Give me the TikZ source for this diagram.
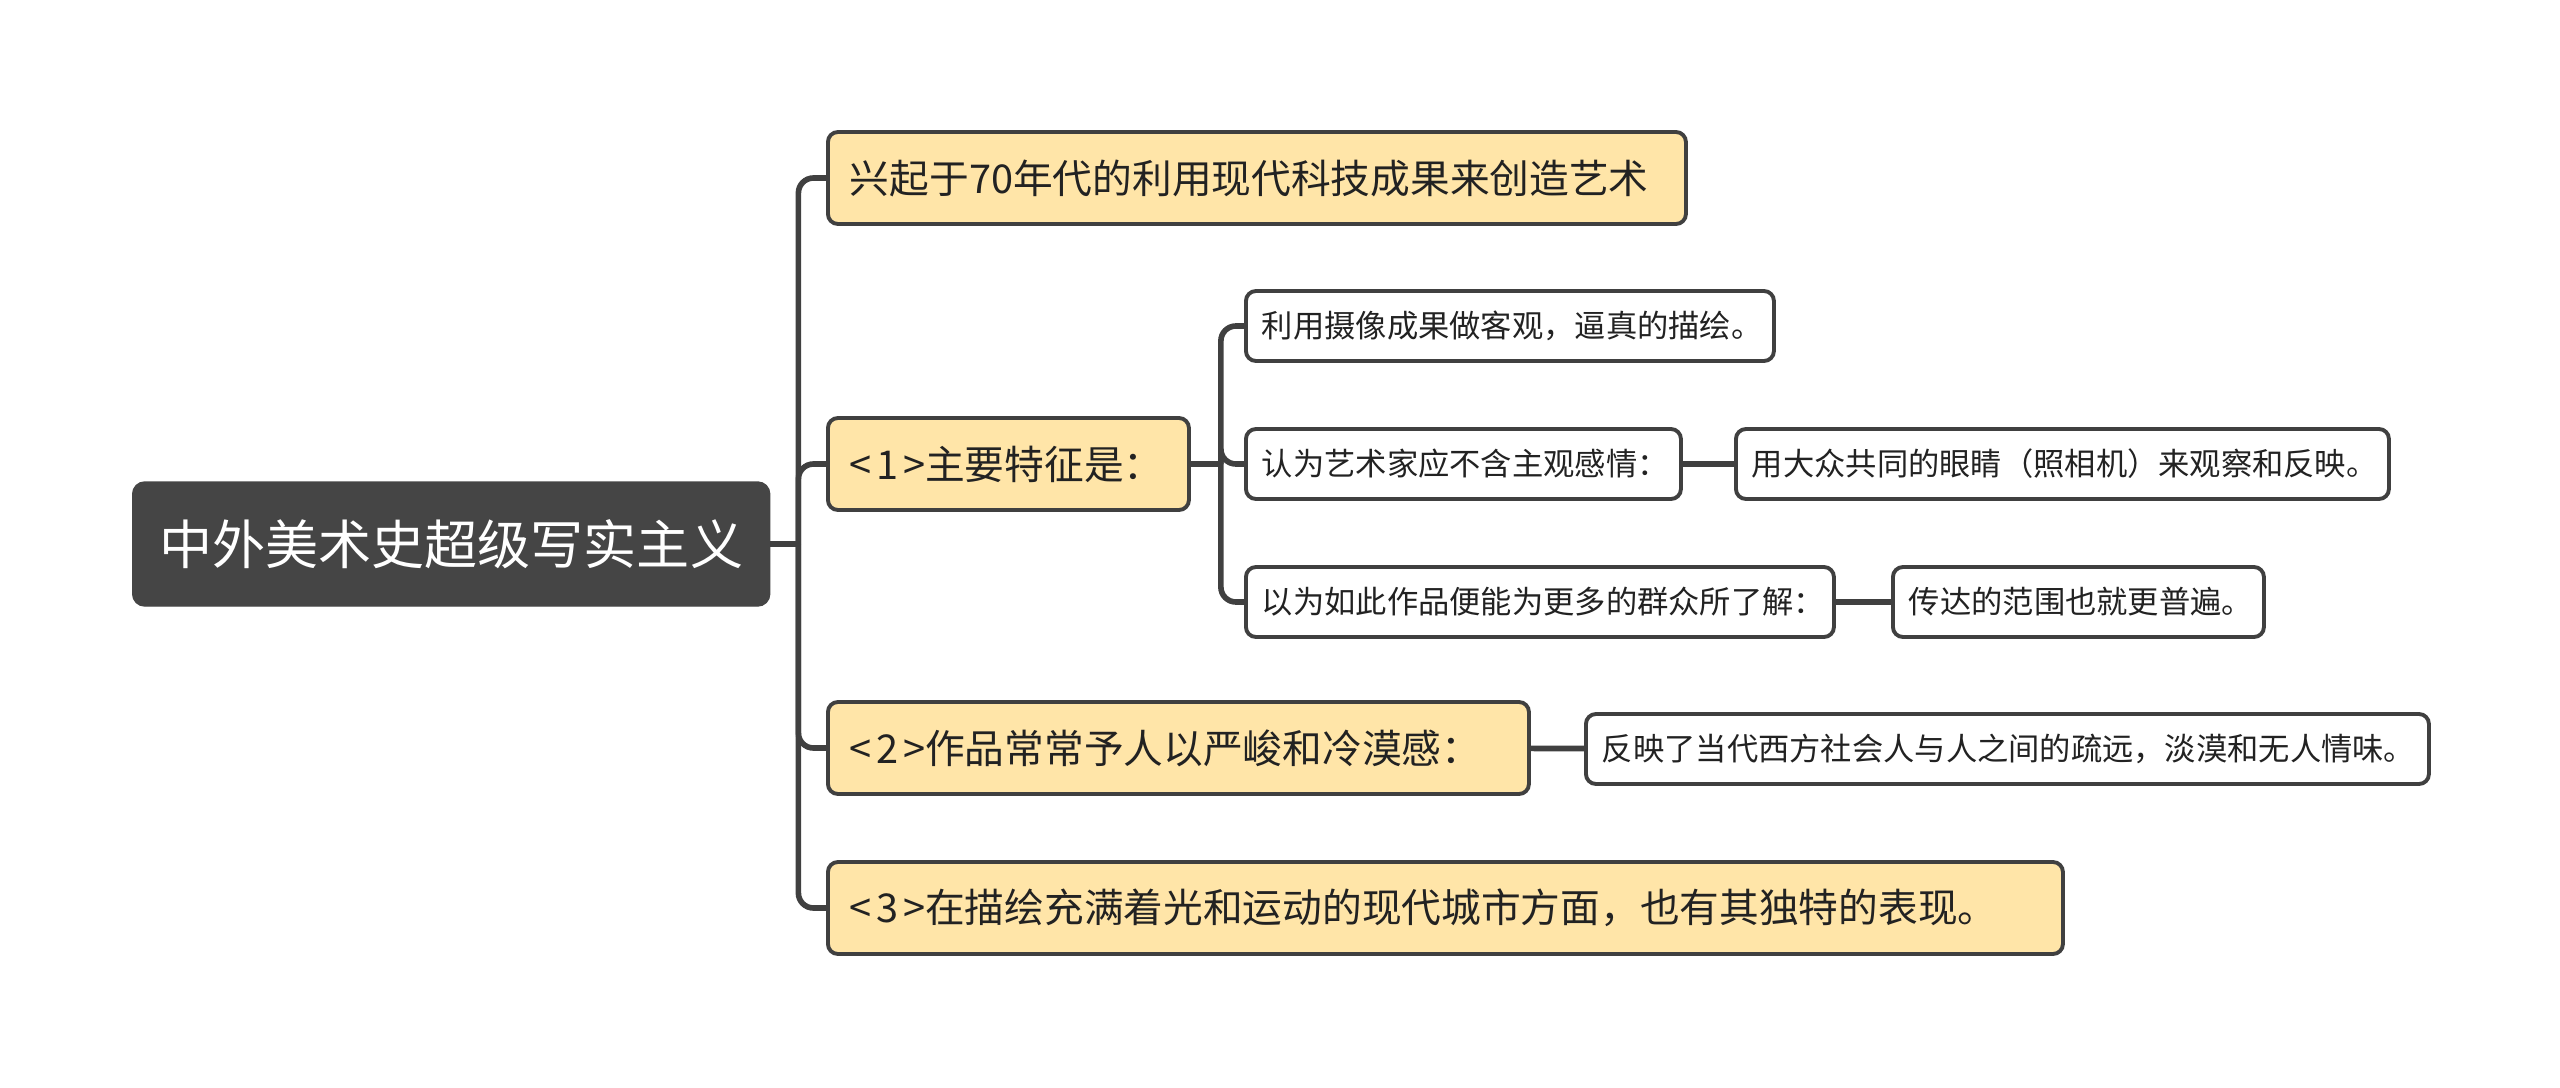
\documentclass[tikz,border=0pt]{standalone}
\usepackage{fontspec}
\setmainfont{Noto Sans CJK SC}
\usepackage{tikz}
\usetikzlibrary{positioning}
\definecolor{rootgray}{RGB}{69,69,69}
\definecolor{topicyellow}{RGB}{255,229,168}
\definecolor{linegray}{RGB}{64,64,64}
\definecolor{textdark}{RGB}{34,34,34}
\newcommand{\numtag}[1]{<\kern1.3pt#1\kern1.3pt>}

\begin{document}
\begin{tikzpicture}[
  rootbox/.style={draw=rootgray, fill=rootgray, text=white, rounded corners=0.12cm, minimum height=1.24cm, anchor=west, inner sep=0pt, font=\fontsize{15.1pt}{18pt}\selectfont},
  topicbox/.style={draw=linegray, line width=1.1pt, fill=topicyellow, text=textdark, rounded corners=0.1cm, minimum height=0.92cm, anchor=west, inner xsep=0.22cm, inner ysep=0pt, align=left, font=\fontsize{11.3pt}{13pt}\selectfont},
  leafbox/.style={draw=linegray, line width=1.1pt, fill=white, text=textdark, rounded corners=0.1cm, minimum height=0.70cm, anchor=west, inner xsep=0.16cm, inner ysep=0pt, font=\fontsize{8.9pt}{10pt}\selectfont},
  conn/.style={draw=linegray, line width=1.6pt, rounded corners=0.15cm}
]
  \useasboundingbox (0,0) rectangle (25.6,10.87);

  % root
  \node[rootbox, minimum width=6.37cm] (root) at (1.32,5.43) {中外美术史超级写实主义};

  % main topics
  \node[topicbox, minimum width=8.58cm, text width=8.14cm] (rise) at (8.26,9.09) {兴起于70年代的利用现代科技成果来创造艺术};
  \node[topicbox, minimum width=3.61cm, text width=3.17cm] (feat) at (8.26,6.23) {\numtag{1}主要特征是：};
  \node[topicbox, minimum width=7.01cm, text width=6.57cm] (cold) at (8.26,3.39) {\numtag{2}作品常常予人以严峻和冷漠感：};
  \node[topicbox, minimum width=12.35cm, text width=11.91cm] (city) at (8.26,1.79) {\numtag{3}在描绘充满着光和运动的现代城市方面，也有其独特的表现。};

  % features
  \node[leafbox, minimum width=5.28cm, text width=4.96cm] (camera) at (12.44,7.61) {利用摄像成果做客观，逼真的描绘。};
  \node[leafbox, minimum width=4.35cm, text width=4.03cm] (nofeel) at (12.44,6.23) {认为艺术家应不含主观感情：};
  \node[leafbox, minimum width=5.88cm, text width=5.56cm] (masses) at (12.44,4.85) {以为如此作品便能为更多的群众所了解：};

  % details
  \node[leafbox, minimum width=6.53cm, text width=6.21cm] (eyes) at (17.34,6.23) {用大众共同的眼睛（照相机）来观察和反映。};
  \node[leafbox, minimum width=3.71cm, text width=3.39cm] (spread) at (18.91,4.85) {传达的范围也就更普遍。};
  \node[leafbox, minimum width=8.43cm, text width=8.11cm] (distant) at (15.84,3.38) {反映了当代西方社会人与人之间的疏远，淡漠和无人情味。};

  % connectors
  \draw[conn] (root.east) -- ++(0.28,0) coordinate (trunk);
  \foreach \t in {rise,feat,cold,city}
    \draw[conn] (trunk) |- (\t.west);
  \draw[conn] (feat.east) -- ++(0.30,0) coordinate (branch);
  \foreach \t in {camera,nofeel,masses}
    \draw[conn] (branch) |- (\t.west);
  \draw[conn] (nofeel) -- (eyes);
  \draw[conn] (masses) -- (spread);
  \draw[conn] (cold) -- (distant);
\end{tikzpicture}
\end{document}
